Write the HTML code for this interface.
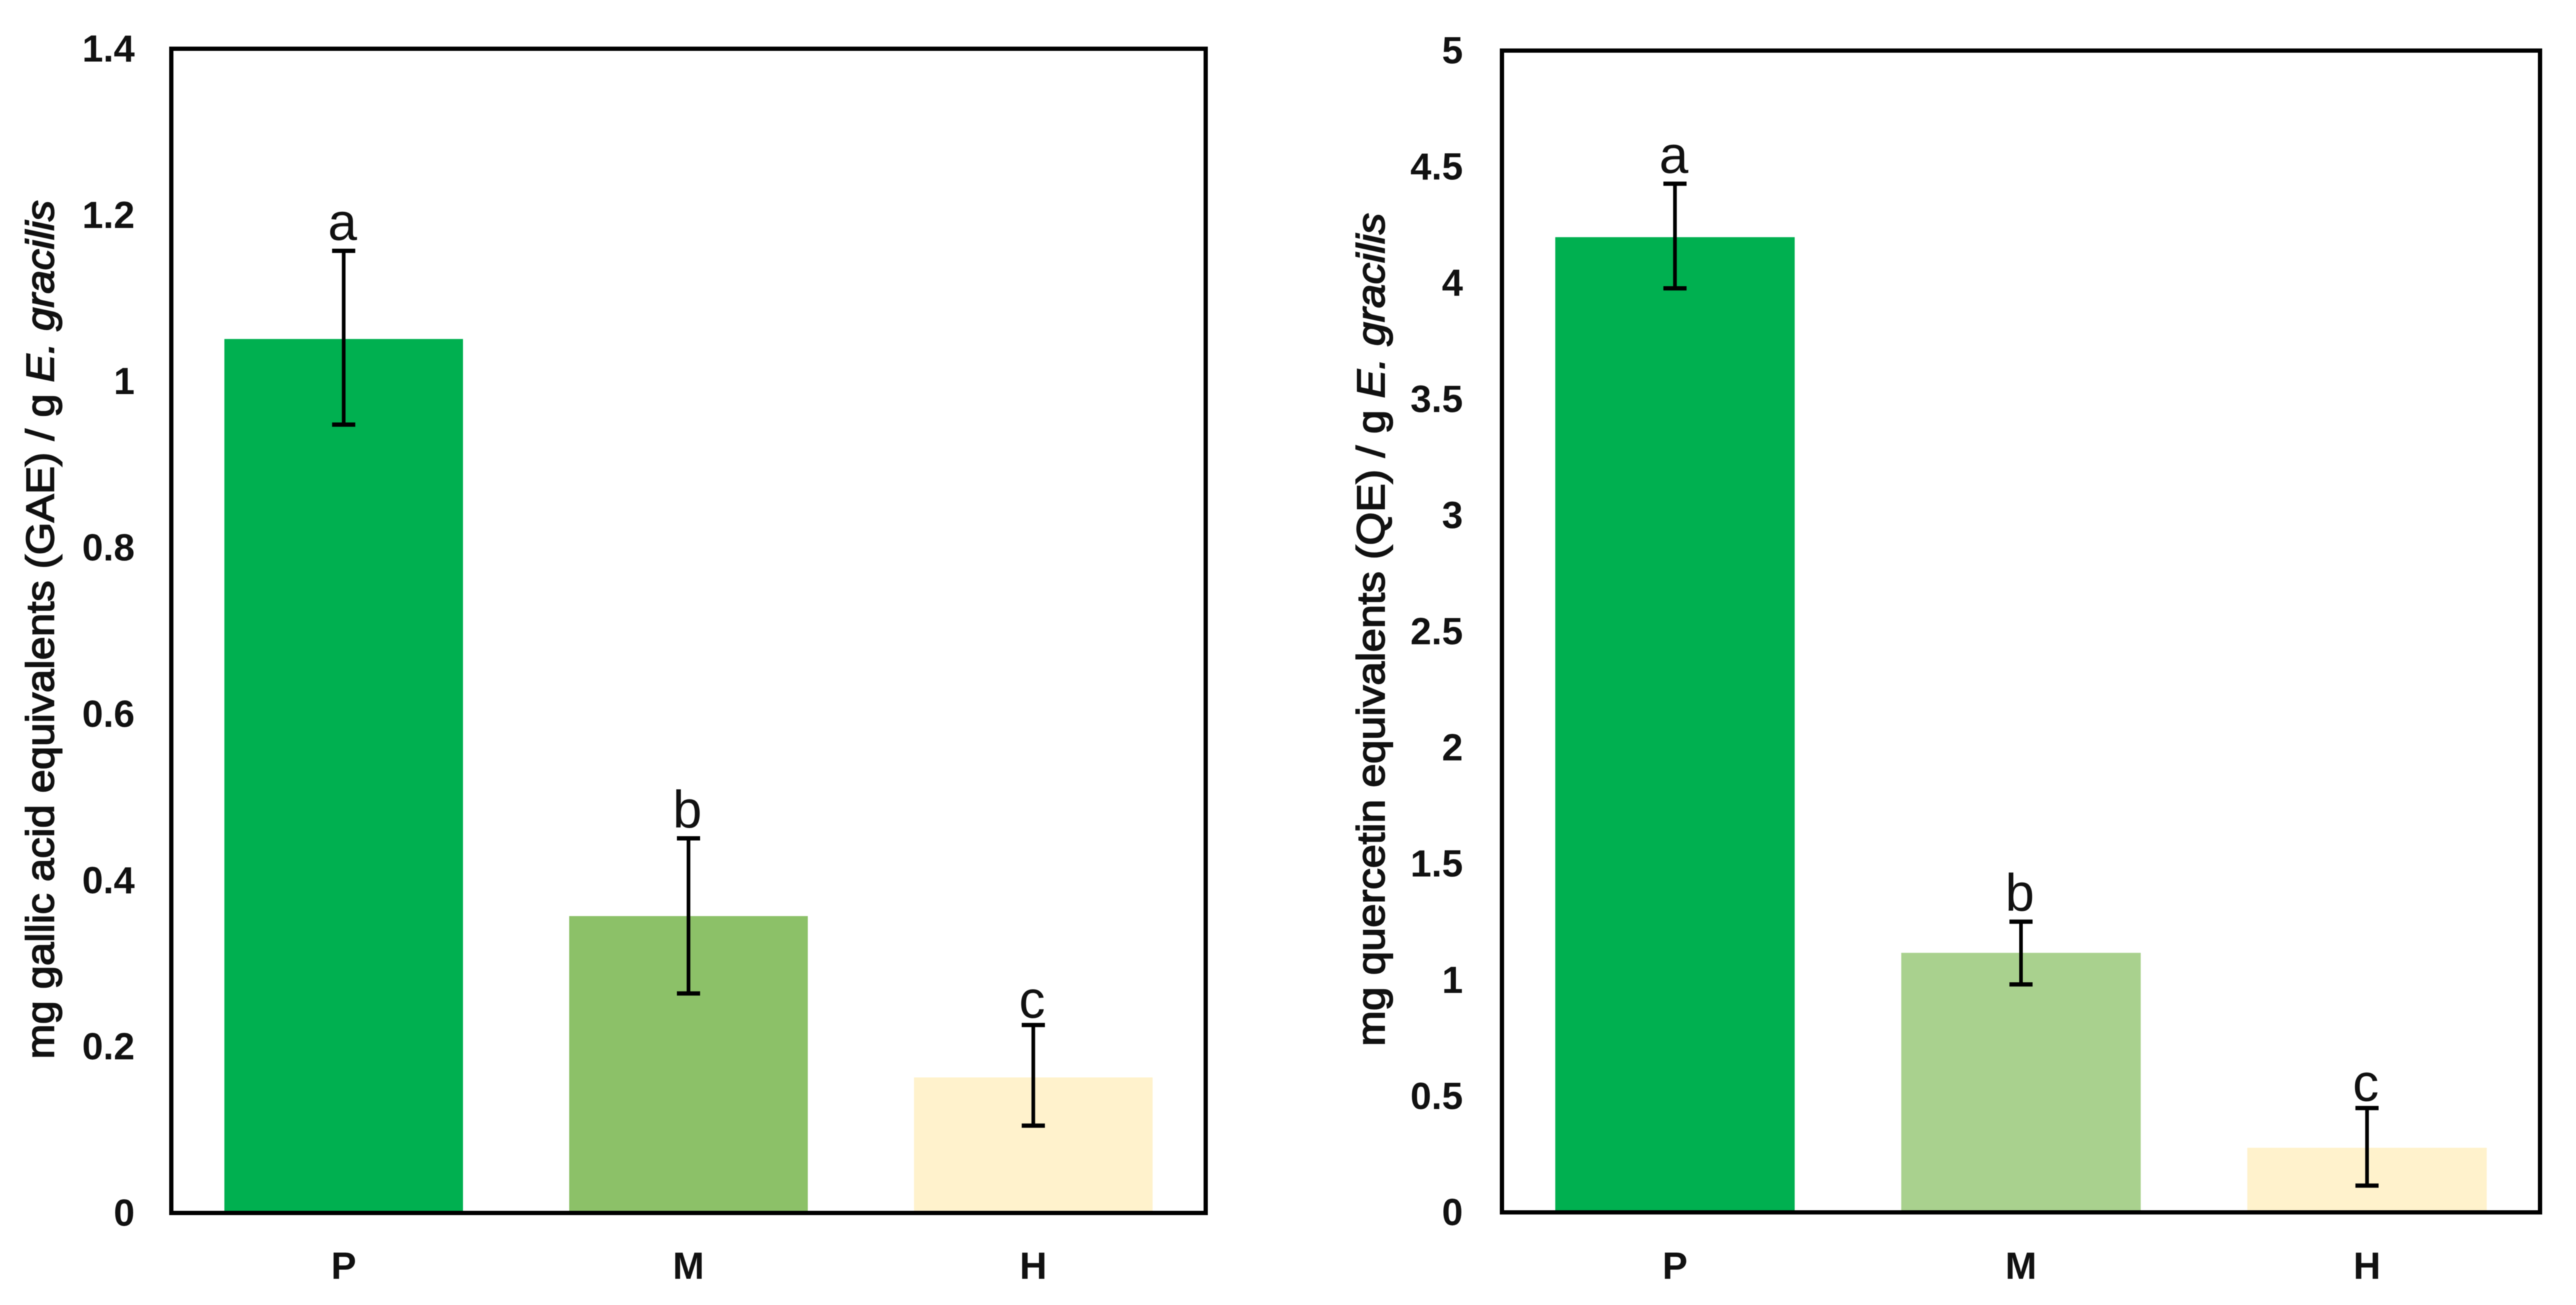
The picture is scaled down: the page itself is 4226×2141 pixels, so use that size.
<!DOCTYPE html>
<html lang="en">
<head>
<meta charset="utf-8">
<title>Phenolic and flavonoid content of E. gracilis</title>
<style>
html,body{margin:0;padding:0;background:#fff;width:4226px;height:2141px;overflow:hidden}
svg{display:block;filter:blur(.8px)}
text{font-family:"Liberation Sans",sans-serif;fill:#111}
.tick{font-size:62px;font-weight:700}
.title{font-size:64px;font-weight:400;stroke:#111;stroke-width:2px}
.letter{font-size:86px;font-weight:400}
</style>
</head>
<body>
<svg id="figure" xmlns="http://www.w3.org/2000/svg" width="4226" height="2141" viewBox="0 0 4226 2141">
  <g id="panel-left">
    <text class="title" transform="translate(88,1033) rotate(-90)" text-anchor="middle" textLength="1409" lengthAdjust="spacingAndGlyphs">mg gallic acid equivalents (GAE) / g <tspan font-style="italic">E. gracilis</tspan></text>
  </g>
  <g id="panel-right">
    <text class="title" transform="translate(2271,1033) rotate(-90)" text-anchor="middle" textLength="1367" lengthAdjust="spacingAndGlyphs">mg quercetin equivalents (QE) / g <tspan font-style="italic">E. gracilis</tspan></text>
  </g>
</svg>
<script>
const categories = ['P', 'M', 'H'];
const significanceLetters = ['a', 'b', 'c'];

const gallicTicks = ['0', '0.2', '0.4', '0.6', '0.8', '1', '1.2', '1.4'];
const gallicValues = [1.051, 0.357, 0.163];
const gallicUpper = [1.157, 0.4505, 0.226];
const gallicLower = [0.948, 0.264, 0.105];
const gallicColors = ['#00B050', '#8CC168', '#FFF2CC'];

const quercetinTicks = ['0', '0.5', '1', '1.5', '2', '2.5', '3', '3.5', '4', '4.5', '5'];
const quercetinValues = [4.197, 1.117, 0.278];
const quercetinUpper = [4.427, 1.251, 0.449];
const quercetinLower = [3.977, 0.981, 0.115];
const quercetinColors = ['#00B050', '#A9D18E', '#FFF2CC'];

const SVG_NS = 'http://www.w3.org/2000/svg';

function make(parent, tag, props, text) {
  const node = document.createElementNS(SVG_NS, tag);
  for (const key in props) node.setAttribute(key, props[key]);
  if (text !== undefined) node.textContent = text;
  parent.appendChild(node);
  return node;
}

function renderPanel(group, box, prefix, ticks, values, upper, lower, colors) {
  const axisMax = Number(ticks[ticks.length - 1]);
  const yScale = v => box.bottom - (v / axisMax) * (box.bottom - box.top);
  const band = (box.right - box.left) / categories.length;
  const xScale = i => box.left + band * (i + 0.5);
  const barWidth = band * 0.692;

  categories.forEach((cat, i) => {
    const bar = make(group, 'rect', {
      x: xScale(i) - barWidth / 2,
      y: yScale(values[i]),
      width: barWidth,
      height: box.bottom - yScale(values[i]),
      fill: colors[i]
    });
    
    
  });

  const frame = make(group, 'rect', {
    x: box.left,
    y: box.top,
    width: box.right - box.left,
    height: box.bottom - box.top,
    fill: 'none',
    stroke: '#000',
    'stroke-width': 7
  });
  
  

  ticks.forEach(label => {
    const tick = make(group, 'text', {
      class: 'tick',
      x: box.tickRight,
      y: yScale(Number(label)) + 21,
      'text-anchor': 'end'
    }, label);
    
    
  });

  categories.forEach((cat, i) => {
    const cx = xScale(i);
    const label = make(group, 'text', {
      class: 'tick',
      x: cx,
      y: 2098,
      'text-anchor': 'middle'
    }, cat);
    
    

    const stem = make(group, 'line', {
      x1: cx, x2: cx,
      y1: yScale(upper[i]), y2: yScale(lower[i]),
      stroke: '#000', 'stroke-width': 6
    });
    
    

    const capTop = make(group, 'line', {
      x1: cx - 19, x2: cx + 19,
      y1: yScale(upper[i]), y2: yScale(upper[i]),
      stroke: '#000', 'stroke-width': 7
    });
    
    

    const capBottom = make(group, 'line', {
      x1: cx - 19, x2: cx + 19,
      y1: yScale(lower[i]), y2: yScale(lower[i]),
      stroke: '#000', 'stroke-width': 7
    });
    
    

    const letter = make(group, 'text', {
      class: 'letter',
      x: cx - 2,
      y: yScale(upper[i]) - (i === 2 ? 12 : 18),
      'text-anchor': 'middle'
    }, significanceLetters[i]);
    
    
  });
}

renderPanel(document.getElementById('panel-left'),
  { left: 281, right: 1978, top: 80, bottom: 1990, tickRight: 221 },
  'gallic', gallicTicks, gallicValues, gallicUpper, gallicLower, gallicColors);

renderPanel(document.getElementById('panel-right'),
  { left: 2464, right: 4167, top: 83, bottom: 1989, tickRight: 2400 },
  'quercetin', quercetinTicks, quercetinValues, quercetinUpper, quercetinLower, quercetinColors);
</script>
</body>
</html>
